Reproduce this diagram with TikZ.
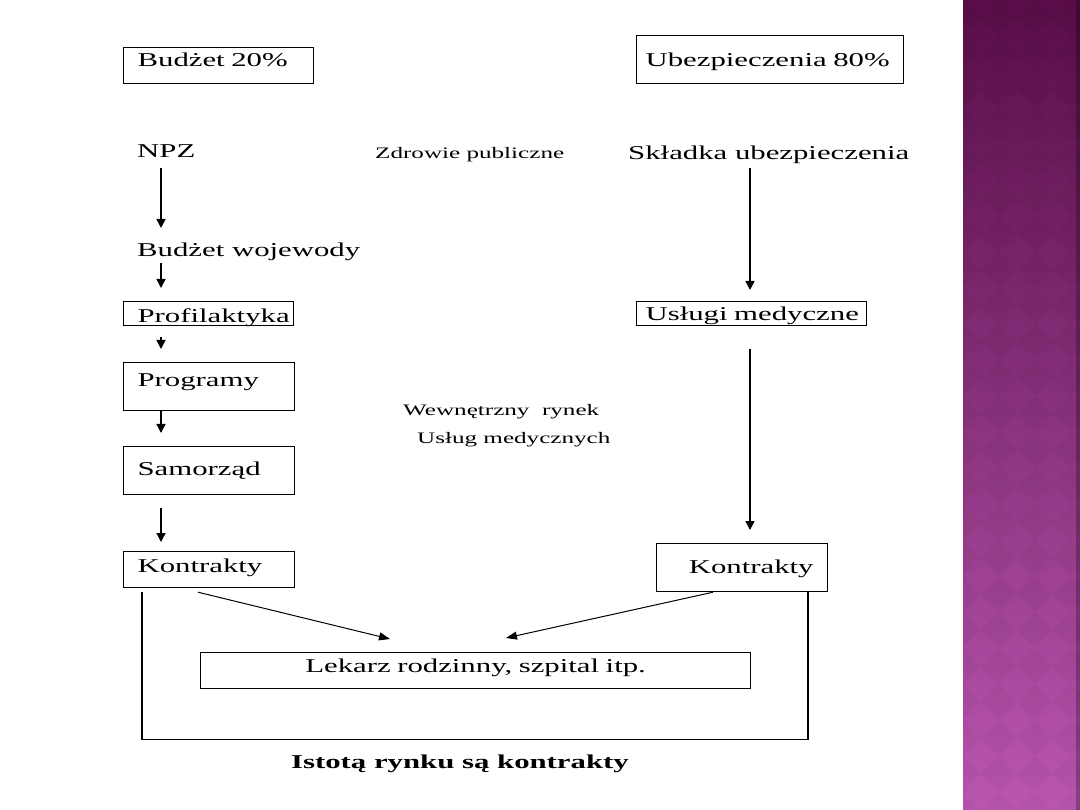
\documentclass[tikz,border=0pt]{standalone}
\usepackage{fontspec}
\setmainfont{Liberation Serif}[FakeStretch=1.57]
\usetikzlibrary{arrows.meta,positioning,calc}
\definecolor{barTop}{RGB}{88,13,72}
\definecolor{barBot}{RGB}{186,86,176}

\begin{document}
\begin{tikzpicture}[
  x=1pt, y=-1pt,
  font=\fontsize{19.6}{23}\selectfont,
  blok/.style={draw, line width=1.2pt, inner ysep=0pt, align=left, anchor=north west},
  txt/.style={inner sep=0pt, anchor=base west},
  small/.style={font=\fontsize{16}{20}\selectfont},
  arr/.style={line width=1.4pt, -{Triangle[length=9pt,width=9pt]}},
  slant/.style={line width=1pt, -{Triangle[length=11pt,width=8pt]}}
]
\useasboundingbox (0,0) rectangle (1080,810);
\fill[white] (0,0) rectangle (1080,810);

% side bar
\shade[top color=barTop, bottom color=barBot] (963,0) rectangle (1080,810);
\begin{scope}
  \clip (963,0) rectangle (1080,810);
  \foreach \i in {0,...,4}
    \foreach \j in {-1,...,23}
      \fill[black, opacity=0.03] (963+36*\i,36*\j) -- ++(18,18) -- ++(-18,18) -- ++(-18,-18) -- cycle;
\end{scope}
\fill[black, opacity=0.25] (1076,0) rectangle (1080,810);

% left column
\node[blok, inner xsep=14pt, text width=162pt, text height=19pt, text depth=17pt] (bud) at (123,47) {\mbox{Budżet 20\%}};
\node[txt] (npz) at (137,158) {NPZ};
\node[txt] (bw) at (137,257) {Budżet wojewody};
\node[blok, inner xsep=14pt, text width=142pt, text height=21pt, text depth=3pt] (prof) at (123,301) {\mbox{Profilaktyka}};
\node[blok, inner xsep=14pt, text width=143pt, text height=24pt, text depth=24pt] (prog) at (123,362) {\mbox{Programy}};
\node[blok, inner xsep=14pt, text width=143pt, text height=29pt, text depth=19pt] (samo) at (123,446) {\mbox{Samorząd}};
\node[blok, inner xsep=14pt, text width=143pt, text height=21pt, text depth=15pt] (kon1) at (123,551) {\mbox{Kontrakty}};

% middle
\node[txt, small] (zdr) at (375,159) {Zdrowie publiczne};
\node[txt, small] (rynek1) at (403,416) {Wewnętrzny\ \ rynek};
\node[txt, small] (rynek2) at (417,444) {Usług medycznych};

% right column
\node[blok, inner xsep=9pt, text width=249pt, text height=31pt, text depth=17pt] (ubez) at (636,35) {\mbox{Ubezpieczenia 80\%}};
\node[txt] (skl) at (628,160) {Składka ubezpieczenia};
\node[blok, inner xsep=9pt, text width=212pt, text height=19pt, text depth=5pt] (usl) at (636,301) {\mbox{Usługi medyczne}};
\node[blok, align=right, inner xsep=14pt, text width=143pt, text height=30pt, text depth=18pt] (kon2) at (656,543) {\mbox{Kontrakty}};

% bottom
\node[blok, align=center, inner xsep=0pt, text width=550pt, text height=20pt, text depth=16pt] (lek) at (200,652) {Lekarz rodzinny, szpital itp.};
\node[txt, anchor=base, font=\fontsize{19.6}{23}\selectfont\bfseries] (ist) at (460,768) {Istotą rynku są kontrakty};

\draw[arr] ([xshift=24pt,yshift=-10pt]npz.base west) -- ([xshift=24pt,yshift=29pt]bw.base west);
\draw[arr] ([xshift=24pt,yshift=-6pt]bw.base west) -- ([xshift=38pt,yshift=13pt]prof.north west);
\draw[arr] ([xshift=38pt,yshift=-11pt]prof.south west) -- ([xshift=38pt,yshift=13pt]prog.north west);
\draw[arr] ([xshift=38pt]prog.south west) -- ([xshift=38pt,yshift=13pt]samo.north west);
\draw[arr] ([xshift=38pt,yshift=-13pt]samo.south west) -- ([xshift=38pt,yshift=9pt]kon1.north west);
\draw[arr] ([xshift=122pt,yshift=-8pt]skl.base west) -- ([xshift=114pt,yshift=11pt]usl.north west);
\draw[arr] ([xshift=114pt,yshift=-23pt]usl.south west) -- ([xshift=94pt,yshift=13pt]kon2.north west);
\draw[slant] ([xshift=75pt,yshift=-4pt]kon1.south west) -- ([xshift=190pt,yshift=13pt]lek.north west);
\draw[slant] ([xshift=57pt]kon2.south west) -- ([xshift=306pt,yshift=14pt]lek.north west);
\draw[line width=1.2pt] ([xshift=19pt,yshift=-4pt]kon1.south west) -- ++(0,147) -| ([xshift=152pt]kon2.south west);
\end{tikzpicture}
\end{document}
